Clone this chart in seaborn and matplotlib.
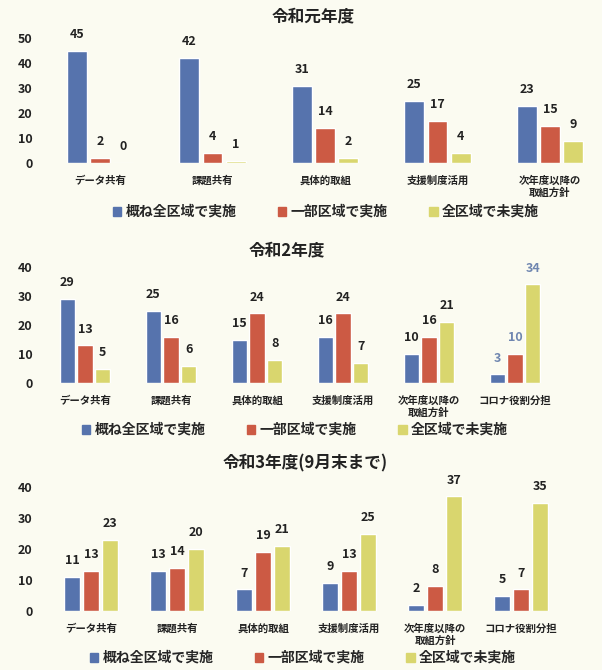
import pandas as pd
import matplotlib.pyplot as plt
import seaborn as sns

# --- data ---
cats_r1 = ['データ共有', '課題共有', '具体的取組', '支援制度活用', '次年度以降の\n取組方針']
cats_r23 = ['データ共有', '課題共有', '具体的取組', '支援制度活用', '次年度以降の\n取組方針', 'コロナ役割分担']
status = ['概ね全区域で実施', '一部区域で実施', '全区域で未実施']

r1_all = [45, 42, 31, 25, 23]
r1_part = [2, 4, 14, 17, 15]
r1_none = [0, 1, 2, 4, 9]

r2_all = [29, 25, 15, 16, 10, 3]
r2_part = [13, 16, 24, 24, 16, 10]
r2_none = [5, 6, 8, 7, 21, 34]

r3_all = [11, 13, 7, 9, 2, 5]
r3_part = [13, 14, 19, 13, 8, 7]
r3_none = [23, 20, 21, 25, 37, 35]

colors = ['#5673ad', '#cc5a44', '#d9d66e']
bg = '#fbfbf1'

sns.set_theme(style='white')
plt.rcParams['font.family'] = ['Noto Sans CJK JP', 'DejaVu Sans']


def long_df(cats, a, b, c):
    rows = []
    for name, vals in zip(status, [a, b, c]):
        for cat, v in zip(cats, vals):
            rows.append({'cat': cat, 'status': name, 'value': v})
    return pd.DataFrame(rows)


def draw_panel(ax, cats, df, ymax, xlim, width, title_y, title_x, title, leg_y, leg_x):
    sns.barplot(data=df, x='cat', y='value', hue='status', order=cats,
                hue_order=status, palette=colors, width=width, gap=0.15,
                saturation=1, legend=False, ax=ax)
    for cont in ax.containers:
        ax.bar_label(cont, fmt='%d', padding=7, fontsize=9, fontweight='bold', color='#222222')
    ax.set_xlim(*xlim)
    ax.set_ylim(0, ymax)
    ax.set_yticks(range(0, ymax + 1, 10))
    ax.set_xlabel('')
    ax.set_ylabel('')
    ax.set_facecolor('none')
    sns.despine(ax=ax, left=True, bottom=True)
    ax.tick_params(axis='y', length=0, pad=9, labelsize=9)
    ax.tick_params(axis='x', length=0, pad=9, labelsize=7.5)
    for t in ax.get_yticklabels() + ax.get_xticklabels():
        t.set_fontweight('bold')
        t.set_color('#222222')
    fig.text(title_x / 602, 1 - title_y / 670, title, ha='center', va='center',
             fontsize=12, fontweight='bold', color='#222222')
    handles = [plt.Rectangle((0, 0), 1, 1, color=c) for c in colors]
    fig.legend(handles, status, loc='center', ncol=3, frameon=False,
               bbox_to_anchor=(leg_x / 602, 1 - leg_y / 670),
               handlelength=0.6, handleheight=0.6, handletextpad=0.3,
               columnspacing=3.0, prop={'size': 10, 'weight': 'bold'})


fig = plt.figure(figsize=(6.02, 6.70), dpi=100)
fig.patch.set_facecolor(bg)

ax1 = fig.add_axes([45 / 602, (670 - 163) / 670, 550 / 602, 125 / 670])
draw_panel(ax1, cats_r1, long_df(cats_r1, r1_all, r1_part, r1_none), 50,
           (-0.49, 4.4), 0.62, 16, 313, '令和元年度', 212, 326)

ax2 = fig.add_axes([45 / 602, (670 - 383) / 670, 550 / 602, 116 / 670])
draw_panel(ax2, cats_r23, long_df(cats_r23, r2_all, r2_part, r2_none), 40,
           (-0.465, 5.93), 0.62, 250, 287, '令和2年度', 430, 295)
# the last group's value labels are printed in blue-grey on the scan
for t in ax2.texts:
    if abs(t.xy[0] - 5) < 0.5:
        t.set_color('#6f86b0')

ax3 = fig.add_axes([45 / 602, (670 - 611) / 670, 550 / 602, 124 / 670])
draw_panel(ax3, cats_r23, long_df(cats_r23, r3_all, r3_part, r3_none), 40,
           (-0.535, 5.86), 0.65, 463, 305, '令和3年度(9月末まで)', 658, 303)

fig.savefig('out.png', dpi=100, facecolor=bg)
